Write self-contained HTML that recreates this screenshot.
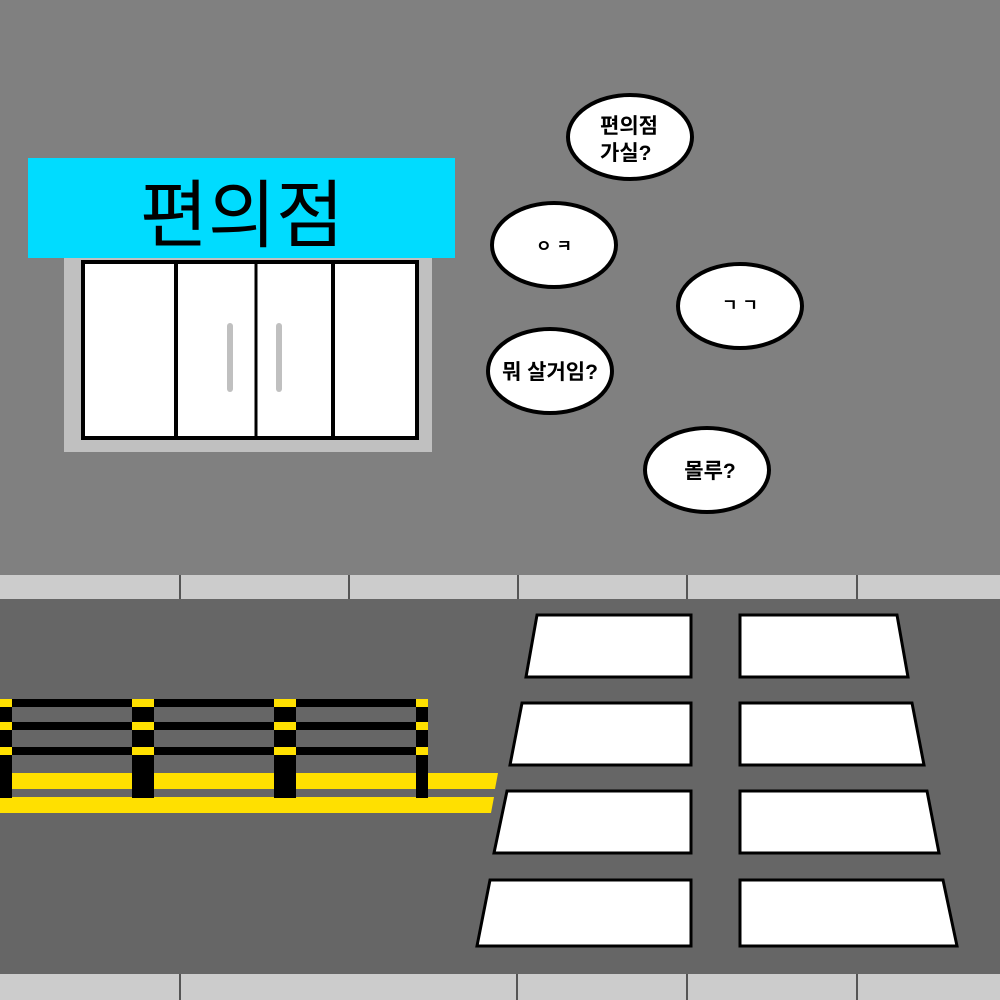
<!DOCTYPE html>
<html><head><meta charset="utf-8"><style>
html,body{margin:0;padding:0;background:#808080}
svg{display:block}
text{font-family:"Liberation Sans","Noto Sans CJK KR",sans-serif}
</style></head><body>
<svg width="1000" height="1000" viewBox="0 0 1000 1000" xmlns="http://www.w3.org/2000/svg">
<rect width="1000" height="1000" fill="#808080"/>
<rect x="64" y="258" width="368" height="194" fill="#c0c0c0"/>
<rect x="83" y="262" width="334" height="176" fill="#fff" stroke="#000" stroke-width="4"/>
<line x1="176" y1="262" x2="176" y2="438" stroke="#000" stroke-width="4"/>
<line x1="256" y1="262" x2="256" y2="438" stroke="#000" stroke-width="3"/>
<line x1="333" y1="262" x2="333" y2="438" stroke="#000" stroke-width="4"/>
<line x1="230" y1="326" x2="230" y2="389" stroke="#c0c0c0" stroke-width="6" stroke-linecap="round"/>
<line x1="279" y1="326" x2="279" y2="389" stroke="#c0c0c0" stroke-width="6" stroke-linecap="round"/>
<rect x="28" y="158" width="427" height="100" fill="#00dcff"/>
<text x="242" y="241" font-size="74" text-anchor="middle" fill="#000">편의점</text>
<g fill="#fff" stroke="#000" stroke-width="4">
<ellipse cx="630" cy="137" rx="62" ry="42"/>
<ellipse cx="554" cy="245" rx="62" ry="42"/>
<ellipse cx="740" cy="306" rx="62" ry="42"/>
<ellipse cx="550" cy="371" rx="62" ry="42"/>
<ellipse cx="707" cy="470" rx="62" ry="42"/>
</g>
<g font-size="21" fill="#000" font-weight="bold">
<text x="600" y="133">편의점</text>
<text x="600" y="160">가실?</text>
<text x="554" y="252" text-anchor="middle" font-size="17">ㅇ ㅋ</text>
<text x="740" y="311" text-anchor="middle" font-size="17">ㄱ ㄱ</text>
<text x="550" y="379" text-anchor="middle">뭐 살거임?</text>
<text x="710" y="478" text-anchor="middle">몰루?</text>
</g>
<rect x="0" y="575" width="1000" height="25" fill="#cccccc"/>
<g stroke="#555" stroke-width="2">
<line x1="180" y1="575" x2="180" y2="600"/><line x1="349" y1="575" x2="349" y2="600"/>
<line x1="518" y1="575" x2="518" y2="600"/><line x1="687" y1="575" x2="687" y2="600"/>
<line x1="857" y1="575" x2="857" y2="600"/>
</g>
<rect x="0" y="599" width="1000" height="375" fill="#666"/>
<rect x="0" y="974" width="1000" height="26" fill="#cccccc"/>
<g stroke="#555" stroke-width="2">
<line x1="180" y1="974" x2="180" y2="1000"/><line x1="517" y1="974" x2="517" y2="1000"/>
<line x1="687" y1="974" x2="687" y2="1000"/><line x1="857" y1="974" x2="857" y2="1000"/>
</g>
<polygon points="0,773 498,773 495,789 0,789" fill="#ffe000"/>
<polygon points="0,797 494,797 491,813 0,813" fill="#ffe000"/>
<g fill="#000">
<rect x="0" y="699" width="428" height="8"/>
<rect x="0" y="722" width="428" height="8"/>
<rect x="0" y="747" width="428" height="8"/>
<rect x="0" y="699" width="12" height="99"/>
<rect x="132" y="699" width="22" height="99"/>
<rect x="274" y="699" width="22" height="99"/>
<rect x="416" y="699" width="12" height="99"/>
</g>
<g fill="#ffe000">
<rect x="0" y="699" width="12" height="8"/><rect x="0" y="722" width="12" height="8"/><rect x="0" y="747" width="12" height="8"/>
<rect x="132" y="699" width="22" height="8"/><rect x="132" y="722" width="22" height="8"/><rect x="132" y="747" width="22" height="8"/>
<rect x="274" y="699" width="22" height="8"/><rect x="274" y="722" width="22" height="8"/><rect x="274" y="747" width="22" height="8"/>
<rect x="416" y="699" width="12" height="8"/><rect x="416" y="722" width="12" height="8"/><rect x="416" y="747" width="12" height="8"/>
</g>
<g fill="#fff" stroke="#000" stroke-width="3">
<polygon points="537,615 691,615 691,677 526,677"/>
<polygon points="522,703 691,703 691,765 510,765"/>
<polygon points="507,791 691,791 691,853 494,853"/>
<polygon points="490,880 691,880 691,946 477,946"/>
<polygon points="740,615 897,615 908,677 740,677"/>
<polygon points="740,703 912,703 924,765 740,765"/>
<polygon points="740,791 927,791 939,853 740,853"/>
<polygon points="740,880 943,880 957,946 740,946"/>
</g>
</svg>
</body></html>
